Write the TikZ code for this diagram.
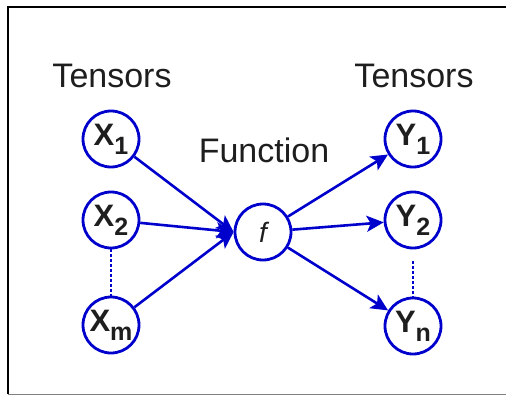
\documentclass[tikz,border=0pt]{standalone}
\usepackage{fontspec}
\setmainfont{Liberation Sans}
\usetikzlibrary{arrows.meta}
\definecolor{tblue}{RGB}{0,0,204}
\definecolor{ttext}{RGB}{30,30,30}
\newcommand{\vsub}[2]{\textbf{#1\raisebox{-9pt}{\fontsize{25}{25}\selectfont #2}}}
\begin{document}
\begin{tikzpicture}[x=1pt,y=-1pt,
  tensor/.style={circle,draw=tblue,line width=2.8pt,minimum size=56pt,inner sep=0pt,
    font=\fontsize{31}{33}\selectfont,text=ttext},
  func/.style={tensor,font=\fontsize{28}{30}\selectfont\itshape},
  head/.style={anchor=base,font=\fontsize{34}{36}\selectfont,text=ttext},
  flow/.style={draw=tblue,line width=2.6pt,-{Stealth[length=17pt,width=16pt,inset=4pt]}},
  gap/.style={draw=tblue,line width=2pt,dash pattern=on 2.5pt off 2.5pt}]
 	\useasboundingbox (0,0) rectangle (506,396);
 	% frame
 	\draw [black,line width=2pt] (506,7) -- (8,7) -- (8,394);
 	\draw [gray,line width=1pt] (8,394) -- (506,394);
 	% headings
 	\node [head] (inhead) at (112,88) {Tensors};
 	\node [head] (outhead) at (414,88) {Tensors};
 	\node [head] (fhead) at (264,162) {Function};
 	% inputs
 	\node [tensor] (x1) at (111,139) {\vsub{X}{1}};
 	\node [tensor] (x2) at (111,220) {\vsub{X}{2}};
 	\node [tensor] (xm) at (111,325) {\vsub{X}{m}};
 	% function
 	\node [func] (f) at (263,232) {f};
 	% outputs
 	\node [tensor] (y1) at (413,139) {\vsub{Y}{1}};
 	\node [tensor] (y2) at (413,220) {\vsub{Y}{2}};
 	\node [tensor] (yn) at (413,326) {\vsub{Y}{n}};
 	% connectors
 	\foreach \a in {x1,x2,xm} \draw [flow] (\a) -- (f.west);
 	\foreach \b in {y1,y2,yn} \draw [flow] (f) -- (\b);
 	\draw [gap] (x2) -- (xm);
 	\draw [gap,shorten <=12pt] (y2) -- (yn);
\end{tikzpicture}
\end{document}
